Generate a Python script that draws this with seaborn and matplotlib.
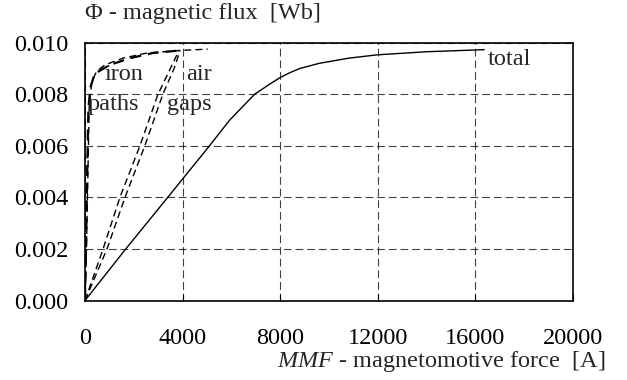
import numpy as np
import pandas as pd
import matplotlib
matplotlib.use("Agg")
import matplotlib.pyplot as plt
import seaborn as sns

# ----------------------------------------
# Data
# ----------------------------------------
total_mmf = [0, 1670, 3390, 5100, 5930, 6950, 7500, 7980, 8400, 8800, 9600, 10800,
             11980, 14000, 16360]
total_flux = [0, 0.002, 0.004, 0.006, 0.0070, 0.0080, 0.00835, 0.00864, 0.00884, 0.00900,
              0.00920, 0.00940, 0.00953, 0.00965, 0.00973]

iron1_mmf = [0, 60, 120, 170, 280, 480, 820, 1550, 2540, 3890, 5030]
iron1_flux = [0, 0.002, 0.005, 0.0075, 0.0085, 0.0089, 0.00914, 0.0094, 0.0096, 0.0097, 0.00975]
iron2_mmf = [0, 40, 90, 140, 230, 400, 1020, 1840, 2780, 3890]
iron2_flux = [0, 0.002, 0.005, 0.0075, 0.0083, 0.0088, 0.00914, 0.0094, 0.0096, 0.0097]

air1_mmf = [0, 740, 1430, 2250, 2990, 3500, 3850]
air1_flux = [0, 0.002, 0.004, 0.006, 0.008, 0.009, 0.0097]
air2_mmf = [0, 900, 1640, 2450, 3190, 3650, 3900]
air2_flux = [0, 0.002, 0.004, 0.006, 0.008, 0.009, 0.0097]

x_ticks = [0, 4000, 8000, 12000, 16000, 20000]
y_ticks = [0.000, 0.002, 0.004, 0.006, 0.008, 0.010]

# ----------------------------------------
# Style
# ----------------------------------------
sns.set_style("white")
plt.rcParams["font.family"] = ["Liberation Serif", "DejaVu Serif"]
plt.rcParams["mathtext.fontset"] = "custom"
plt.rcParams["mathtext.it"] = "Liberation Serif:italic"
plt.rcParams["mathtext.rm"] = "Liberation Serif"
fs = 17.5

fig = plt.figure(figsize=(6.27, 3.8), dpi=100)
ax = fig.add_axes([0.1356, 0.2092, 0.7783, 0.6784])

curves = [
    (total_mmf, total_flux, "-", 1.0),
    (iron1_mmf, iron1_flux, (0, (5, 3)), 1.0),
    (iron2_mmf, iron2_flux, (0, (5, 3)), 1.6),
    (air1_mmf, air1_flux, (0, (5, 3)), 1.0),
    (air2_mmf, air2_flux, (0, (5, 3)), 1.0),
]
for xs, ys, ls, lw in curves:
    df = pd.DataFrame({"mmf": xs, "flux": ys})
    sns.lineplot(data=df, x="mmf", y="flux", sort=False, color="black",
                 linestyle=ls, linewidth=lw, ax=ax)

ax.set_xlim(0, 20000)
ax.set_ylim(0, 0.010)
ax.set_xticks(x_ticks)
ax.set_yticks(y_ticks)
ax.set_xticklabels([str(t) for t in x_ticks], fontsize=fs)
ax.set_yticklabels([f"{t:.3f}" for t in y_ticks], fontsize=fs)
ax.tick_params(axis="x", direction="in", length=5, width=0.8, pad=20, bottom=True, colors="black")
ax.tick_params(axis="y", length=0, pad=12, colors="black")

ax.grid(True, color="black", linestyle=(0, (7, 3.5)), linewidth=0.8, alpha=0.75)
for s in ax.spines.values():
    s.set_color("black")
    s.set_linewidth(1.2)

ax.set_xlabel("")
ax.set_ylabel("")

# axis titles
fig.text(0.1356, 0.95, "\u03a6 - magnetic flux  [Wb]", fontsize=fs, ha="left", va="baseline")
fig.text(0.965, 0.034, "$\\mathit{MMF}$ - magnetomotive force  [A]", fontsize=fs,
         ha="right", va="baseline")

# curve annotations
ax.text(818, 0.00856, "iron", fontsize=fs, ha="left", va="baseline")
ax.text(123, 0.00739, "paths", fontsize=fs, ha="left", va="baseline")
ax.text(4130, 0.00856, "air", fontsize=fs, ha="left", va="baseline")
ax.text(3350, 0.00739, "gaps", fontsize=fs, ha="left", va="baseline")
ax.text(16520, 0.00914, "total", fontsize=fs, ha="left", va="baseline")

fig.savefig("out.png", dpi=100)
